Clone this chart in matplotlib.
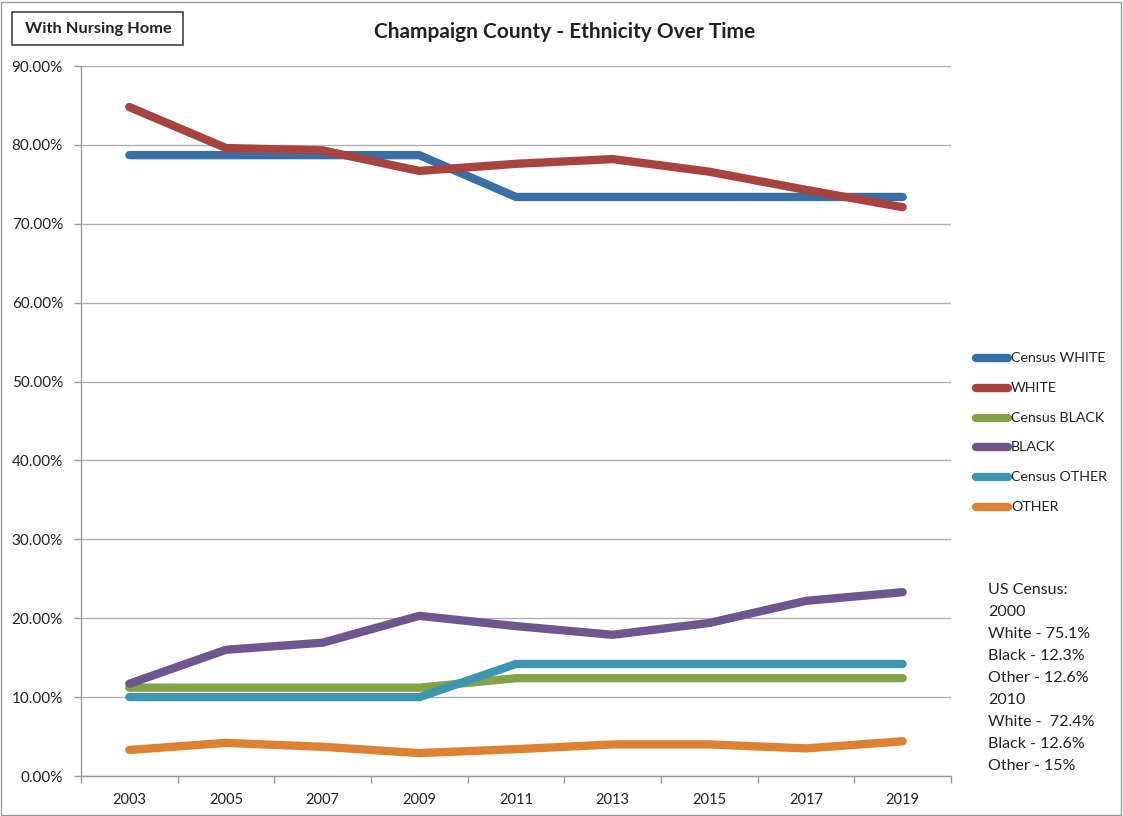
import matplotlib
matplotlib.use("Agg")
import matplotlib.pyplot as plt
from matplotlib.patches import Rectangle
from matplotlib.lines import Line2D
import numpy as np

years = ["2003", "2005", "2007", "2009", "2011", "2013", "2015", "2017", "2019"]
census_white = [78.7, 78.7, 78.7, 78.7, 73.4, 73.4, 73.4, 73.4, 73.4]
white = [84.8, 79.6, 79.3, 76.7, 77.6, 78.2, 76.6, 74.3, 72.1]
census_black = [11.2, 11.2, 11.2, 11.2, 12.4, 12.4, 12.4, 12.4, 12.4]
black = [11.7, 16.0, 16.9, 20.3, 19.0, 17.9, 19.4, 22.2, 23.3]
census_other = [10.0, 10.0, 10.0, 10.0, 14.2, 14.2, 14.2, 14.2, 14.2]
other = [3.3, 4.2, 3.7, 2.9, 3.4, 4.0, 4.0, 3.5, 4.4]

series_names = ["Census WHITE", "WHITE", "Census BLACK", "BLACK", "Census OTHER", "OTHER"]
series_vals = [census_white, white, census_black, black, census_other, other]
colors = ["#3A6FA6", "#A8433F", "#84A246", "#6E568F", "#3D95AE", "#DE8133"]

census_note = ["US Census:", "2000", "White - 75.1%", "Black - 12.3%", "Other - 12.6%",
               "2010", "White -  72.4%", "Black - 12.6%", "Other - 15%"]

plt.rcParams['font.family'] = ['Lato', 'DejaVu Sans']

W, H = 1123, 816
fig = plt.figure(figsize=(W / 100, H / 100), dpi=100)
ax = fig.add_axes([81 / W, (H - 776) / H, (951 - 81) / W, (776 - 66) / H])

x = np.arange(len(years))
lw = 6.0
for name, vals, c in zip(series_names, series_vals, colors):
    ax.plot(x, vals, color=c, lw=lw, solid_capstyle='round', solid_joinstyle='round', label=name)

ax.set_xlim(-0.5, len(years) - 0.5)
ax.set_ylim(0, 90)
ax.set_yticks(np.arange(0, 91, 10))
ax.set_yticklabels([f"{v:.2f}%" for v in np.arange(0, 91, 10)])
ax.set_xticks(x)
ax.set_xticklabels(years)
ax.set_xticks(np.arange(-0.5, len(years), 1), minor=True)
ax.tick_params(axis='x', which='major', length=0, pad=12, labelsize=10.5, colors='#222222')
ax.tick_params(axis='x', which='minor', length=5, color='#999999', width=1)
ax.tick_params(axis='y', length=5, color='#999999', width=1, labelsize=11, labelcolor='#222222', pad=8)
ax.grid(axis='y', color='#b0b0b0', lw=1)
ax.set_axisbelow(True)
for s in ['top', 'right']:
    ax.spines[s].set_visible(False)
for s in ['left', 'bottom']:
    ax.spines[s].set_color('#999999')
    ax.spines[s].set_linewidth(1)

# title
fig.text(565 / W, 1 - 32 / H, "Champaign County - Ethnicity Over Time", ha='center', va='center',
         fontsize=15, fontweight='bold', color='#222222')

# box label
fig.patches.append(Rectangle((12 / W, 1 - 45 / H), (183 - 12) / W, 33 / H, transform=fig.transFigure,
                             fill=False, edgecolor='#444444', lw=1.2))
fig.text(98 / W, 1 - 29 / H, "With Nursing Home", ha='center', va='center', fontsize=11.8,
         fontweight='bold', color='#222222')

# outer frame
fig.patches.append(Rectangle((1 / W, 1 / H), (W - 3) / W, (H - 3) / H, transform=fig.transFigure,
                             fill=False, edgecolor='#999999', lw=1))

# legend
leg_y = [358, 388, 418, 447, 477, 507]
for name, c, yy in zip(series_names, colors, leg_y):
    fig.add_artist(Line2D([976 / W, 1008 / W], [1 - yy / H, 1 - yy / H], transform=fig.transFigure,
                          color=c, lw=lw, solid_capstyle='round'))
    fig.text(1011 / W, 1 - yy / H, name, ha='left', va='center', fontsize=10.3, color='#222222')

# census note
for i, t in enumerate(census_note):
    fig.text(988 / W, 1 - (590 + i * 22) / H, t, ha='left', va='center', fontsize=11.5, color='#222222')

fig.savefig("out.png", dpi=100)
